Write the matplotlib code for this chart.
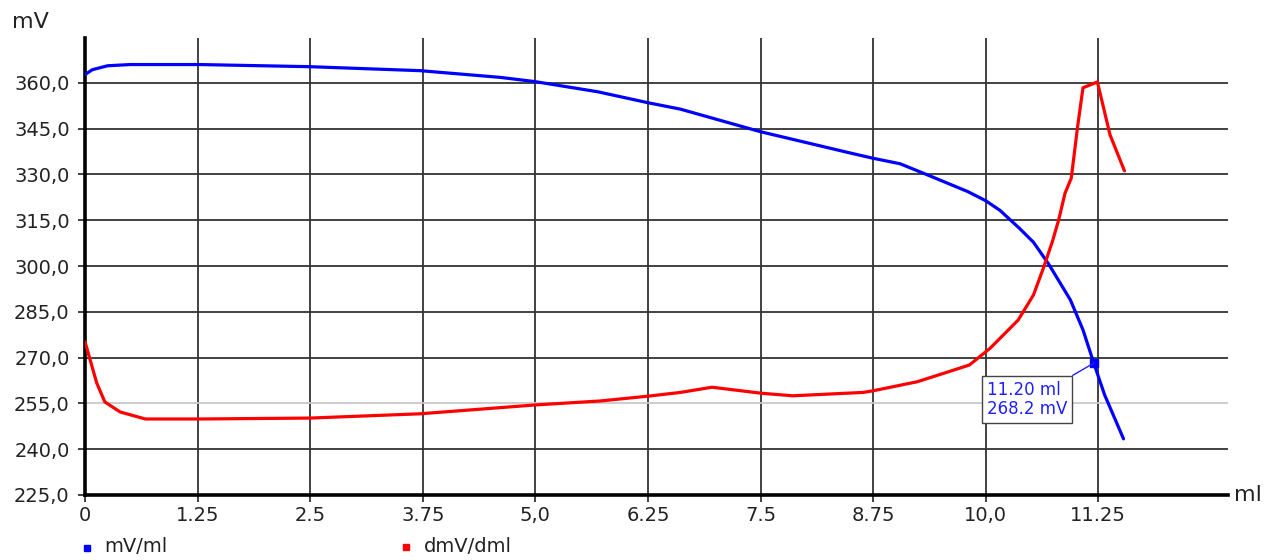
import numpy as np
import matplotlib
matplotlib.use('Agg')
import matplotlib.pyplot as plt
from matplotlib.lines import Line2D

#
# Datos leídos de la curva de titulación
#
vol_mv = [0.0, 0.08, 0.25, 0.5, 1.28, 2.5, 3.72, 4.61, 5.0, 5.69, 6.25, 6.61,
          7.5, 8.5, 8.75, 9.05, 9.35, 9.8, 10.0, 10.16, 10.27, 10.38, 10.53,
          10.70, 10.94, 11.08, 11.20, 11.32, 11.53]
mv = [362.7, 364.3, 365.6, 366.0, 366.0, 365.3, 364.0, 361.8, 360.4, 357.1,
      353.5, 351.4, 344.0, 337.0, 335.3, 333.5, 329.9, 324.4, 321.4, 318.2,
      315.2, 312.2, 307.8, 300.6, 288.9, 279.1, 268.2, 257.8, 243.4]

vol_dmv = [0.0, 0.13, 0.22, 0.39, 0.67, 1.28, 2.5, 3.72, 5.0, 5.72, 6.26, 6.61,
           6.96, 7.52, 7.86, 8.64, 8.76, 9.24, 9.59, 9.82, 10.05, 10.36, 10.53,
           10.64, 10.74, 10.81, 10.88, 10.95, 11.02, 11.08, 11.24, 11.38, 11.54]
dmv = [275.2, 261.7, 255.5, 252.2, 249.9, 249.9, 250.2, 251.6, 254.5, 255.8,
       257.4, 258.6, 260.3, 258.3, 257.5, 258.6, 259.2, 262.1, 265.4, 267.6,
       273.1, 282.3, 290.5, 299.3, 308.0, 315.1, 323.8, 328.8, 345.6, 358.4,
       360.3, 343.0, 331.2]

xticks = [0, 1.25, 2.5, 3.75, 5.0, 6.25, 7.5, 8.75, 10.0, 11.25]
xlabels = ['0', '1.25', '2.5', '3.75', '5,0', '6.25', '7.5', '8.75', '10,0', '11.25']
yticks = [225, 240, 255, 270, 285, 300, 315, 330, 345, 360]
ylabels = ['225,0', '240,0', '255,0', '270,0', '285,0', '300,0', '315,0',
           '330,0', '345,0', '360,0']

ann_x = 11.20
ann_y = 268.2

plt.rcParams['font.family'] = ['DejaVu Sans']

fig = plt.figure(figsize=(12.78, 5.6), dpi=100)
ax = fig.add_axes([85/1278, 1 - 495/560, 1143/1278, 457/560])

ax.set_xlim(0, 12.69)
ax.set_ylim(225, 374.7)

#
# Rejilla
#
for xv in xticks[1:]:
    ax.axvline(xv, color='#333333', lw=1.3, zorder=1)
for yv in yticks[1:]:
    col = '#c8c8c8' if yv == 255 else '#333333'
    ax.axhline(yv, color=col, lw=1.3, zorder=1)

#
# Curvas
#
ax.plot(vol_mv, mv, color='#0000ff', lw=2.3, zorder=3, solid_capstyle='round')
ax.plot(vol_dmv, dmv, color='#ff0000', lw=2.3, zorder=3, solid_capstyle='round')

#
# Punto marcado
#
ax.plot([ann_x], [ann_y], marker='s', ms=6, color='#0000ff', zorder=4)
ax.annotate('{:.2f} ml\n{:.1f} mV'.format(ann_x, ann_y),
            xy=(ann_x, ann_y), xytext=(-77, -26), textcoords='offset points',
            ha='left', va='center', fontsize=12, color='#2020ff',
            linespacing=1.05,
            bbox=dict(boxstyle='square,pad=0.3', fc='white', ec='#444444', lw=1),
            arrowprops=dict(arrowstyle='-', color='#2020ff', lw=1,
                            shrinkA=0, shrinkB=0,
                            relpos=(0.95, 1.0)),
            zorder=5)

#
# Ejes
#
for s in ['top', 'right']:
    ax.spines[s].set_visible(False)
ax.spines['left'].set_linewidth(2.6)
ax.spines['bottom'].set_linewidth(2.6)
ax.set_xticks(xticks)
ax.set_xticklabels(xlabels)
ax.set_yticks(yticks)
ax.set_yticklabels(ylabels)
ax.tick_params(axis='both', length=5, width=1.3, color='#333333',
               labelsize=14, labelcolor='#222222')
ax.tick_params(axis='y', pad=6)
ax.tick_params(axis='x', pad=3)

fig.text(12/1278, 1 - 22/560, 'mV', fontsize=16, va='center', ha='left',
         color='#222222')
fig.text(1234/1278, 1 - 495/560, 'ml', fontsize=16, va='center', ha='left',
         color='#222222')

#
# Leyenda
#
fig.add_artist(Line2D([87/1278], [1 - 548/560], marker='s', ms=5,
                      color='#0000ff', transform=fig.transFigure))
fig.text(104/1278, 1 - 547/560, 'mV/ml', fontsize=14, va='center',
         color='#222222')
fig.add_artist(Line2D([406/1278], [1 - 547/560], marker='s', ms=5,
                      color='#ff0000', transform=fig.transFigure))
fig.text(424/1278, 1 - 546/560, 'dmV/dml', fontsize=14, va='center',
         color='#222222')

fig.savefig('out.png', dpi=100)
